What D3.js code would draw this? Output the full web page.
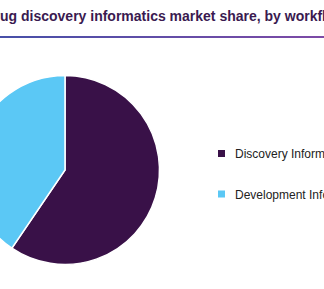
<!DOCTYPE html>
<html>
<head>
<meta charset="utf-8">
<script src="https://cdn.jsdelivr.net/npm/d3@7"></script>
<style>
  html, body { margin: 0; padding: 0; background: #fff; overflow: hidden; }
  svg { display: block; font-family: "Liberation Sans", Arial, sans-serif; }
</style>
</head>
<body>
<div id="chart"></div>
<script>
var categories = ['Discovery Informatics', 'Development Informatics'];
var shares = [59.5, 40.5];
var colors = ['#391148', '#5bc8f5'];
var title = 'Global drug discovery informatics market share, by workflow, 2020 (%)';

var width = 324, height = 289;
var svg = d3.select('#chart').append('svg')
  .attr('width', width)
  .attr('height', height);

// gradient under the title
var grad = svg.append('defs').append('linearGradient')
  .attr('id', 'rule')
  .attr('x1', '0%').attr('x2', '100%');
grad.append('stop').attr('offset', '0%').attr('stop-color', '#4750a8');
grad.append('stop').attr('offset', '100%').attr('stop-color', '#7d4aa6');

// Title (cropped on both sides like the reference)
var titleText = svg.append('text')
  .attr('y', 21)
  .attr('font-size', 14)
  .attr('font-weight', 'bold')
  .attr('fill', '#3a1a50')
  .text(title);
var offset = titleText.node().getSubStringLength(0, title.indexOf('ug discovery'));
titleText.attr('x', -offset);

svg.append('rect')
  .attr('x', 0).attr('y', 36)
  .attr('width', width).attr('height', 2)
  .attr('fill', 'url(#rule)');

// Pie
var data = categories.map(function (c, i) { return { name: c, value: shares[i] }; });
var pie = d3.pie().sort(null).value(function (d) { return d.value; });
var arc = d3.arc().innerRadius(0).outerRadius(94.5);
var color = d3.scaleOrdinal().domain(categories).range(colors);

svg.append('g')
  .attr('transform', 'translate(65,170)')
  .selectAll('path')
  .data(pie(data))
  .enter()
  .append('path')
  .attr('d', arc)
  .attr('fill', function (d) { return color(d.data.name); })
  .attr('stroke', '#fff')
  .attr('stroke-width', 1.5);

// Legend
var legendY = d3.scalePoint().domain(categories).range([153.5, 194]);
var legend = svg.append('g').selectAll('g')
  .data(categories)
  .enter()
  .append('g')
  .attr('transform', function (d) { return 'translate(218,' + legendY(d) + ')'; });
legend.append('rect')
  .attr('x', 0).attr('y', -3.5)
  .attr('width', 7).attr('height', 7)
  .attr('fill', function (d) { return color(d); });
legend.append('text')
  .attr('x', 17).attr('y', 4.5)
  .attr('font-size', 12)
  .attr('fill', '#222')
  .text(function (d) { return d; });
</script>
</body>
</html>
